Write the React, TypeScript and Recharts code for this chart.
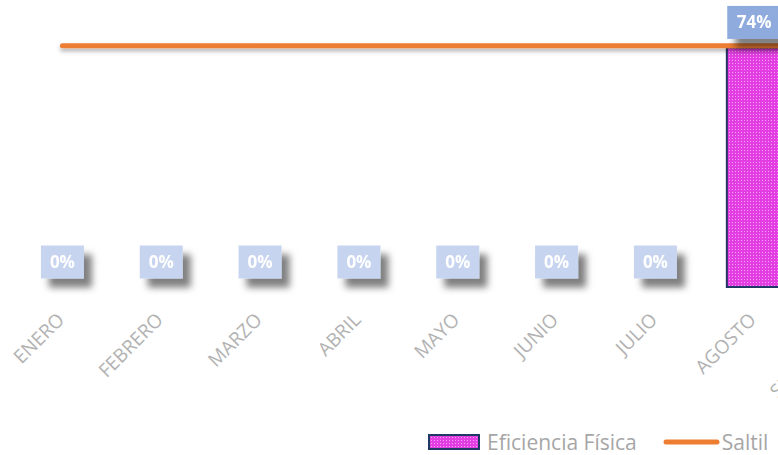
import * as React from 'react'
import { ComposedChart, Bar, Line, XAxis, YAxis, Legend } from 'recharts'

const MONTHS = [
  'ENERO', 'FEBRERO', 'MARZO', 'ABRIL', 'MAYO', 'JUNIO',
  'JULIO', 'AGOSTO', 'SEPTIEMBRE', 'OCTUBRE', 'NOVIEMBRE', 'DICIEMBRE',
]
const EFICIENCIA = [0, 0, 0, 0, 0, 0, 0, 0.74, null, null, null, null]
const SALTIL = [0.745, 0.745, 0.745, 0.745, 0.745, 0.745, 0.745, 0.745, 0.745, 0.745, 0.745, 0.745]

const chartData = MONTHS.map((month, i) => ({
  month,
  eficiencia: EFICIENCIA[i],
  saltil: SALTIL[i],
}))

const FONT = '"Open Sans", "Noto Sans", sans-serif'
const TICK_COLOR = '#B2B2B2'
const LEGEND_COLOR = '#A6A6A6'
const BAR_BORDER = '#1F3864'
const LINE_COLOR = '#ED7D31'

function MonthTick(props: any) {
  const { x, y, payload } = props
  return (
    <text
      x={0}
      y={0}
      transform={`translate(${x + 3},${y + 34}) rotate(-45)`}
      textAnchor="end"
      fill={TICK_COLOR}
      fontFamily={FONT}
      fontSize={19}
    >
      {payload.value}
    </text>
  )
}

// value boxes drawn as dots of an invisible line, so zero values get one too
function ValueLabel(props: any) {
  const { cx, cy, value } = props
  if (value == null || cx == null || cy == null) return null
  const text = `${Math.round(Number(value) * 100)}%`
  const boxW = text.length > 2 ? 54 : 43
  const boxH = 33
  const top = cy - 8.5 - boxH
  return (
    <g filter="url(#labelShadow)">
      <rect
        x={cx - boxW / 2}
        y={top}
        width={boxW}
        height={boxH}
        fill={Number(value) > 0 ? '#8FAADC' : '#C7D4EF'}
      />
      <text
        x={cx}
        y={top + boxH / 2 + 6}
        textAnchor="middle"
        fill="#FFFFFF"
        fontFamily={FONT}
        fontWeight={700}
        fontSize={17}
      >
        {text}
      </text>
    </g>
  )
}

function ChartLegend() {
  return (
    <div
      style={{
        display: 'flex',
        alignItems: 'center',
        height: 36,
        boxSizing: 'border-box',
        paddingTop: 10,
        paddingLeft: 428,
        fontFamily: FONT,
        fontSize: 21,
        color: LEGEND_COLOR,
        whiteSpace: 'nowrap',
      }}
    >
      <svg width={52} height={16} style={{ marginRight: 7, display: 'block' }}>
        <defs>
          <pattern id="legendDots" width={3} height={3} patternUnits="userSpaceOnUse">
            <rect width={3} height={3} fill="#E23EE2" />
            <rect width={1} height={1} fill="#F7A0F7" />
          </pattern>
        </defs>
        <rect x={1} y={1} width={50} height={14} fill="url(#legendDots)" stroke={BAR_BORDER} strokeWidth={2} />
      </svg>
      <span>Eficiencia Física</span>
      <svg width={57} height={8} style={{ marginLeft: 26, marginRight: 2, display: 'block' }}>
        <line x1={3} y1={4} x2={54} y2={4} stroke={LINE_COLOR} strokeWidth={5} strokeLinecap="round" />
      </svg>
      <span>Saltil</span>
    </div>
  )
}

export default function App() {
  return (
    <div
      style={{
        position: 'fixed',
        top: 0,
        left: 0,
        width: 778,
        height: 455,
        overflow: 'hidden',
        background: '#FFFFFF',
      }}
    >
      <ComposedChart
        width={1200}
        height={455}
        data={chartData}
        margin={{ top: 28, right: 1, bottom: 0, left: 13 }}
      >
        <defs>
          <pattern id="barDots" width={3} height={3} patternUnits="userSpaceOnUse">
            <rect width={3} height={3} fill="#E23EE2" />
            <rect width={1} height={1} fill="#F7A0F7" />
          </pattern>
          <filter id="labelShadow" x="-50%" y="-50%" width="200%" height="200%">
            <feDropShadow dx={8} dy={9} stdDeviation={3.5} floodColor="#000000" floodOpacity={0.5} />
          </filter>
          <filter id="lineShadow" filterUnits="userSpaceOnUse" x={0} y={0} width={1200} height={455}>
            <feDropShadow dx={0} dy={3} stdDeviation={2} floodColor="#000000" floodOpacity={0.3} />
          </filter>
        </defs>
        <XAxis
          dataKey="month"
          axisLine={false}
          tickLine={false}
          tickSize={0}
          tickMargin={0}
          interval={0}
          height={132}
          tick={<MonthTick />}
        />
        <YAxis hide domain={[0, 0.8]} />
        <Legend
          verticalAlign="bottom"
          height={36}
          wrapperStyle={{ left: 0, width: 1200 }}
          content={() => <ChartLegend />}
        />
        <Bar
          dataKey="eficiencia"
          name="Eficiencia Física"
          barSize={54}
          fill="url(#barDots)"
          stroke={BAR_BORDER}
          strokeWidth={2}
          isAnimationActive={false}
        />
        <Line
          dataKey="saltil"
          name="Saltil"
          type="linear"
          stroke={LINE_COLOR}
          strokeWidth={5}
          strokeLinecap="round"
          filter="url(#lineShadow)"
          dot={false}
          activeDot={false}
          isAnimationActive={false}
        />
        <Line
          dataKey="eficiencia"
          legendType="none"
          type="linear"
          stroke="none"
          dot={<ValueLabel />}
          activeDot={false}
          isAnimationActive={false}
        />
      </ComposedChart>
    </div>
  )
}
